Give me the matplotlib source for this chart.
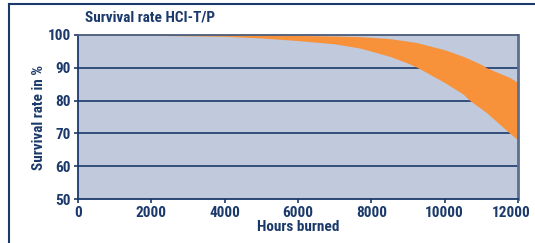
import numpy as np
import matplotlib.pyplot as plt
import matplotlib.transforms as mtransforms
from matplotlib import font_manager
from matplotlib.lines import Line2D

# data
hours = [0, 2000, 4000, 5000, 6000, 7000, 7700, 8500, 9000, 9273, 10000, 10500, 10690, 11000, 11145, 11782, 12000]
upper = [100, 100, 99.95, 99.9, 99.85, 99.7, 99.5, 98.9, 98.1, 97.6, 95.5, 93.5, 92.6, 91.0, 90.0, 87.0, 85.5]
lower = [100, 99.9, 99.6, 99.1, 98.3, 97.3, 96.0, 93.5, 91.4, 90.0, 85.5, 82.0, 80.0, 77.5, 76.3, 70.0, 68.0]
xticks = [0, 2000, 4000, 6000, 8000, 10000, 12000]
yticks = [50, 60, 70, 80, 90, 100]

# narrow bold font like the original, fall back if missing
names = {f.name for f in font_manager.fontManager.ttflist}
wanted = ['Roboto Condensed', 'Liberation Sans Narrow', 'DejaVu Sans Condensed', 'Liberation Sans']
fam = [n for n in wanted if n in names][0]

navy = '#1b3a6b'
plt.rcParams['font.family'] = [fam, 'DejaVu Sans']
plt.rcParams['font.weight'] = 'bold'

fig = plt.figure(figsize=(5.35, 2.43), dpi=100)
ax = fig.add_axes([78/535, 1 - 199/243, 440/535, 164/243])
ax.set_facecolor('#c1c9dc')

ax.fill_between(hours, lower, upper, color='#f7923a', lw=0, zorder=2)
for y in [60, 70, 80, 90]:
    ax.axhline(y, color=navy, lw=1.2, zorder=1)

ax.set_xlim(0, 12000)
ax.set_ylim(50, 100)
ax.set_xticks(xticks)
ax.set_yticks(yticks)
ax.tick_params(colors=navy, labelsize=11, length=3, width=1.2, pad=2)
for lab in ax.get_xticklabels() + ax.get_yticklabels():
    lab.set_fontweight('bold')
# last x label sits a bit left of its tick in the original
last = ax.get_xticklabels()[-1]
last.set_transform(last.get_transform() + mtransforms.ScaledTranslation(-7/100, 0, fig.dpi_scale_trans))

ax.spines['left'].set_color(navy)
ax.spines['bottom'].set_color(navy)
ax.spines['top'].set_color('#4a5a78')
ax.spines['right'].set_color('#5c6f8e')
for s in ax.spines.values():
    s.set_linewidth(1.3)
ax.spines['right'].set_linewidth(2)

ax.set_xlabel('Hours burned', color=navy, fontsize=11, fontweight='bold', labelpad=0)
ax.set_ylabel('Survival rate in %', color=navy, fontsize=11, fontweight='bold', labelpad=1.5)
fig.text(85/535, 1 - 18/243, 'Survival rate HCI-T/P', color=navy, fontsize=11,
         fontweight='bold', va='center', ha='left')

# outer frame
fig.add_artist(Line2D([9/535, 9/535], [0, 1 - 4/243], color=navy, lw=1.5))
fig.add_artist(Line2D([9/535, 1], [1 - 4/243, 1 - 4/243], color=navy, lw=1.5))

fig.savefig('out.png', dpi=100)
